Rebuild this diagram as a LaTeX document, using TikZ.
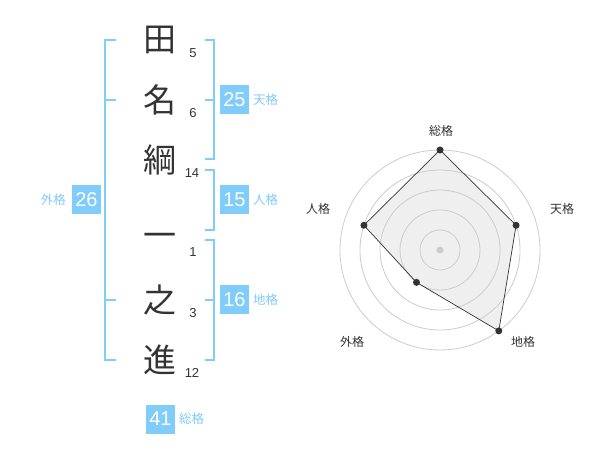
\documentclass[tikz,border=0pt]{standalone}
\usepackage{fontspec}
\usetikzlibrary{calc}
\setmainfont{Liberation Sans}
\newfontfamily\jp{Noto Sans CJK JP}
\definecolor{kb}{HTML}{80CCFA}
\definecolor{ink}{HTML}{333333}
\definecolor{ring}{HTML}{CCCCCC}
\definecolor{area}{HTML}{EFEFEF}
\begin{document}
\begin{tikzpicture}[x=1pt,y=-1pt,
  kanji/.style={inner sep=0pt,text=ink,font=\jp\fontsize{33}{33}\selectfont},
  stroke/.style={inner sep=0pt,text=ink,font=\fontsize{13}{13}\selectfont},
  valbox/.style={fill=kb,text=white,minimum size=29pt,inner sep=0pt,font=\fontsize{20}{20}\selectfont},
  vallabel/.style={inner sep=0pt,text=kb,font=\jp\fontsize{12.5}{12.5}\selectfont},
  bracket/.style={draw=kb,line width=2pt},
  axislabel/.style={inner sep=0pt,text=ink,font=\jp\fontsize{12}{12}\selectfont},
  ringline/.style={draw=ring,line width=0.8pt},
  dot/.style={circle,fill=ink,inner sep=0pt,minimum size=7pt}]
\useasboundingbox (0,0) rectangle (600,470);
\fill[white] (0,0) rectangle (600,470);
% characters
\node[kanji] (c1) at (160,40) {田};
\node[kanji] (c2) at (160,100) {名};
\node[kanji] (c3) at (160,160) {綱};
\node[kanji] (c4) at (160,240) {一};
\node[kanji] (c5) at (160,300) {之};
\node[kanji] (c6) at (160,360) {進};
% stroke counts
\node[stroke] (s1) at (193,53) {5};
\node[stroke] (s2) at (193,113) {6};
\node[stroke] (s3) at (192,173) {14};
\node[stroke] (s4) at (193,252) {1};
\node[stroke] (s5) at (193,313) {3};
\node[stroke] (s6) at (192,373) {12};
% brackets
\draw[bracket] (116,40) -- (105,40) -- (105,360) -- (116,360);
\draw[bracket] (105,100) -- (116,100);
\draw[bracket] (105,300) -- (116,300);
\draw[bracket] (205,40) -- (214,40) -- (214,159) -- (205,159);
\draw[bracket] (205,100) -- (214,100);
\draw[bracket] (205,170) -- (214,170) -- (214,230) -- (205,230);
\draw[bracket] (205,240) -- (214,240) -- (214,360) -- (205,360);
\draw[bracket] (205,300) -- (214,300);
% value boxes
\node[valbox] (ten) at (234.5,100) {25};
\node[vallabel,anchor=west] (tenl) at (253,100) {天格};
\node[valbox] (jin) at (234.5,200) {15};
\node[vallabel,anchor=west] (jinl) at (253,200) {人格};
\node[valbox] (chi) at (234.5,300) {16};
\node[vallabel,anchor=west] (chil) at (253,300) {地格};
\node[valbox] (gai) at (86.5,200) {26};
\node[vallabel,anchor=east] (gail) at (66,200) {外格};
\node[valbox] (sou) at (160.5,419) {41};
\node[vallabel,anchor=west] (soul) at (179,419) {総格};
% radar
\coordinate (O) at (440,250);
\coordinate (p1) at ($(O)+(-90:100)$);
\coordinate (p2) at ($(O)+(-18:80)$);
\coordinate (p3) at ($(O)+(54:100)$);
\coordinate (p4) at ($(O)+(126:40)$);
\coordinate (p5) at ($(O)+(198:80)$);
\fill[area] (p1) -- (p2) -- (p3) -- (p4) -- (p5) -- cycle;
\foreach \r in {20,40,60,80,100} \draw[ringline] (O) circle[radius=\r];
\fill[ring] (O) circle[radius=3.5];
\draw[draw=ink,line width=0.7pt] (p1) -- (p2) -- (p3) -- (p4) -- (p5) -- cycle;
\foreach \p in {p1,p2,p3,p4,p5} \node[dot] at (\p) {};
\node[axislabel] (a1) at (441,131) {総格};
\node[axislabel] (a2) at (562,209) {天格};
\node[axislabel] (a3) at (523,342) {地格};
\node[axislabel] (a4) at (352,342) {外格};
\node[axislabel] (a5) at (318,209) {人格};
\end{tikzpicture}
\end{document}
